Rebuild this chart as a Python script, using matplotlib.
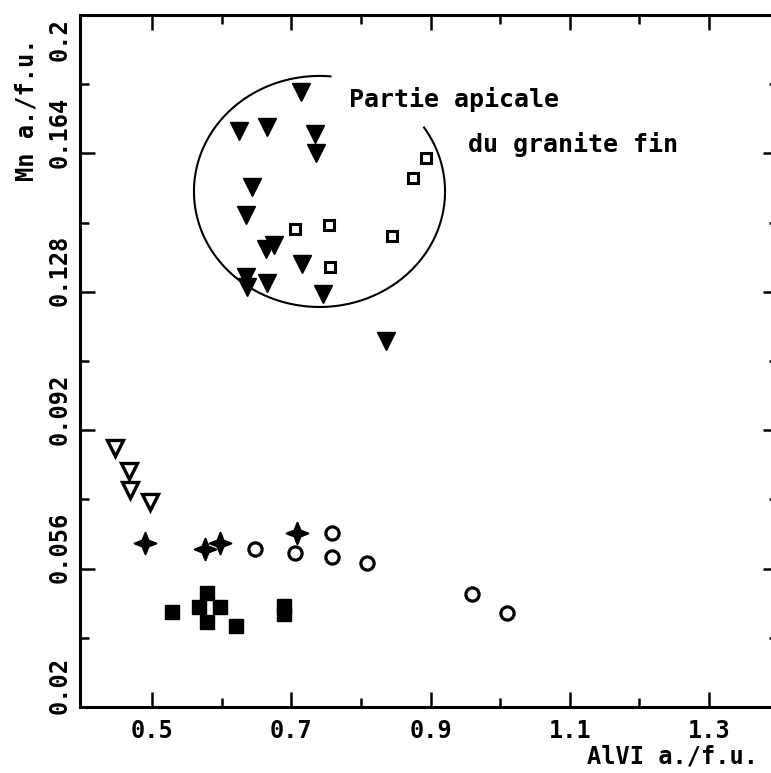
import matplotlib
matplotlib.use('Agg')
import matplotlib.pyplot as plt
import matplotlib.transforms as mtransforms
from matplotlib.path import Path
import numpy as np

# Données (AlVI, Mn en a./f.u.)
tri_plein_x = [0.714, 0.625, 0.665, 0.734, 0.735, 0.644, 0.635, 0.664, 0.675,
               0.715, 0.635, 0.636, 0.665, 0.745, 0.836]
tri_plein_y = [0.180, 0.1698, 0.1709, 0.169, 0.1641, 0.1553, 0.148, 0.1391, 0.1402,
               0.1352, 0.1318, 0.1293, 0.1303, 0.1274, 0.1152]

carre_vide_x = [0.705, 0.754, 0.755, 0.844, 0.875, 0.893]
carre_vide_y = [0.1443, 0.1454, 0.1344, 0.1425, 0.1576, 0.1628]

tri_vide_x = [0.447, 0.467, 0.468, 0.497]
tri_vide_y = [0.0874, 0.0814, 0.0764, 0.0733]

croix_x = [0.490, 0.576, 0.598, 0.708]
croix_y = [0.0627, 0.0611, 0.0627, 0.0653]

rond_x = [0.648, 0.705, 0.758, 0.758, 0.809, 0.960, 1.010]
rond_y = [0.0611, 0.0601, 0.0653, 0.059, 0.0575, 0.0494, 0.0445]

carre_plein_x = [0.529, 0.579, 0.567, 0.598, 0.579, 0.621, 0.690, 0.690]
carre_plein_y = [0.0447, 0.0497, 0.046, 0.046, 0.0421, 0.0411, 0.0463, 0.0442]

xticks_maj = [0.5, 0.7, 0.9, 1.1, 1.3]
xticks_min = [0.6, 0.8, 1.0, 1.2]
yticks_maj = [0.02, 0.056, 0.092, 0.128, 0.164, 0.2]
yticks_min = [0.038, 0.074, 0.11, 0.146, 0.182]
ylabels = ['0.02', '0.056', '0.092', '0.128', '0.164', '0.2']

police = 'DejaVu Sans Mono'
plt.rcParams['font.family'] = police
plt.rcParams['font.weight'] = 'bold'

fig = plt.figure(figsize=(7.71, 7.73), dpi=100)
ax = fig.add_axes([0.1038, 0.0854, 0.9053, 0.8952])
ax.set_xlim(0.3966, 1.399)
ax.set_ylim(0.02, 0.2)

# Marqueur en étoile à 4 branches
etoile = Path([(0, 1), (0.28, 0.28), (1, 0), (0.28, -0.28), (0, -1),
               (-0.28, -0.28), (-1, 0), (-0.28, 0.28), (0, 1)],
              [Path.MOVETO] + [Path.LINETO] * 7 + [Path.CLOSEPOLY])

ax.plot(tri_plein_x, tri_plein_y, 'v', color='black', ms=13.5, mew=1)
ax.plot(carre_vide_x, carre_vide_y, 's', mfc='white', mec='black', ms=7.5, mew=2.2)
ax.plot(tri_vide_x, tri_vide_y, 'v', mfc='white', mec='black', ms=11, mew=2.4)
ax.plot(croix_x, croix_y, marker=etoile, ls='none', color='black', ms=15.5, mew=1.5)
ax.plot(rond_x, rond_y, 'o', mfc='white', mec='black', ms=9.5, mew=2.3)
ax.plot(carre_plein_x, carre_plein_y, 's', color='black', ms=10.5, mew=1)

# Contour de la partie apicale (ellipse ouverte)
cx, cy, rx, ry = 0.7405, 0.1541, 0.1803, 0.03005
t = np.deg2rad(np.linspace(85, 393.6, 300))
ax.plot(cx + rx * np.cos(t), cy + ry * np.sin(t), color='black', lw=1.5)

ax.text(0.783, 0.1761, 'Partie apicale', fontsize=18, fontweight='bold')
ax.text(0.954, 0.1644, 'du granite fin', fontsize=18, fontweight='bold')

# Axes et graduations
for s in ax.spines.values():
    s.set_linewidth(2.2)
ax.spines['right'].set_visible(False)

ax.set_xticks(xticks_maj)
ax.set_xticks(xticks_min, minor=True)
ax.set_yticks(yticks_maj)
ax.set_yticks(yticks_min, minor=True)
ax.set_xticklabels([str(v) for v in xticks_maj])
ax.set_yticklabels(ylabels)
ax.tick_params(which='both', direction='in', top=True, right=True, width=1.8)
ax.tick_params(which='major', length=10.5, labelsize=17)
ax.tick_params(which='minor', length=6.5)
ax.tick_params(axis='x', pad=9)
ax.tick_params(axis='y', pad=6, labelrotation=90)

for i, lab in enumerate(ax.get_yticklabels()):
    dy = 21 / 100 if i < len(ylabels) - 1 else -25 / 100
    lab.set_transform(lab.get_transform() + mtransforms.ScaledTranslation(0, dy, fig.dpi_scale_trans))
    lab.set_va('center')

fig.text(27 / 771, 1 - 110 / 773, 'Mn a./f.u.', rotation=90, ha='center', va='center',
         fontsize=17, fontweight='bold')
fig.text(758 / 771, 1 - 756 / 773, 'AlVI a./f.u.', ha='right', va='center',
         fontsize=17, fontweight='bold')

fig.savefig('out.png', dpi=100)
